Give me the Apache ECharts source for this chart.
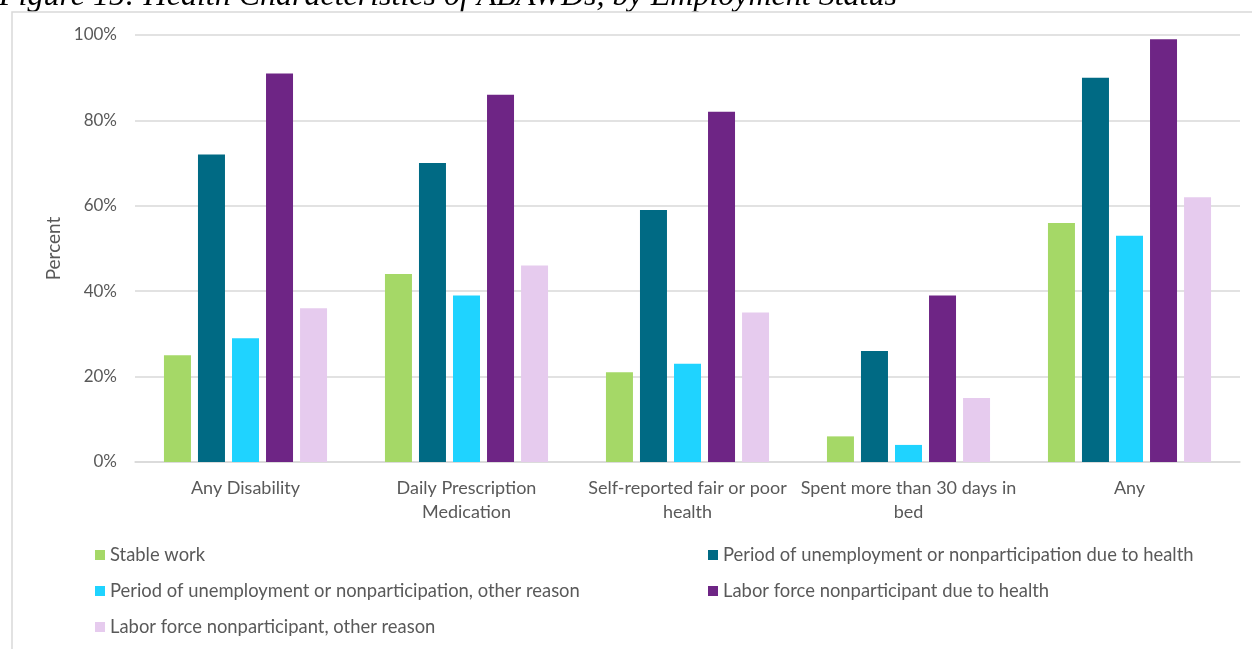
<!DOCTYPE html>
<html>
<head>
<meta charset="utf-8">
<script src="https://cdn.jsdelivr.net/npm/echarts@6/dist/echarts.min.js"></script>
<style>
  html, body { margin: 0; padding: 0; background: #fff; }
  #chart { width: 1252px; height: 649px; }
</style>
</head>
<body>
<div id="chart"></div>
<script>
// Health characteristics by employment status (percent)
const categories = [
  'Any Disability',
  'Daily Prescription\nMedication',
  'Self-reported fair or poor\nhealth',
  'Spent more than 30 days in\nbed',
  'Any'
];
const seriesNames = [
  'Stable work',
  'Period of unemployment or nonparticipation due to health',
  'Period of unemployment or nonparticipation, other reason',
  'Labor force nonparticipant due to health',
  'Labor force nonparticipant, other reason'
];
const stableWork        = [25, 44, 21, 6, 56];
const unempHealth       = [72, 70, 59, 26, 90];
const unempOther        = [29, 39, 23, 4, 53];
const nonpartHealth     = [91, 86, 82, 39, 99];
const nonpartOther      = [36, 46, 35, 15, 62];
const yTicks = [0, 20, 40, 60, 80, 100];

const colors = ['#A5D867', '#006A84', '#1FD3FF', '#6E2585', '#E6CBEE'];
const values = [stableWork, unempHealth, unempOther, nonpartHealth, nonpartOther];

const FONT = 'Lato';
const GREY = '#595959';
const LINE = '#D9D9D9';

const chart = echarts.init(document.getElementById('chart'), null, { renderer: 'canvas' });

const legendText = { color: GREY, fontFamily: FONT, fontSize: 18.4, lineHeight: 20 };

chart.setOption({
  animation: false,
  color: colors,
  graphic: [
    {
      type: 'text',
      left: -1,
      top: -19,
      style: {
        text: 'Figure 15: Health Characteristics of ABAWDs, by Employment Status',
        fill: '#000',
        font: 'italic 32px "Liberation Serif", "Times New Roman", serif'
      }
    },
    {
      type: 'rect',
      shape: { x: 12, y: 12, width: 1260, height: 660 },
      style: { fill: 'none', stroke: LINE, lineWidth: 1.5 },
      silent: true
    }
  ],
  grid: { left: 135, right: 12, top: 35, bottom: 187, containLabel: false },
  legend: [
    {
      orient: 'vertical',
      left: 90,
      top: 540,
      itemWidth: 10,
      itemHeight: 10,
      itemGap: 16,
      icon: 'rect',
      data: [seriesNames[0], seriesNames[2], seriesNames[4]],
      textStyle: legendText
    },
    {
      orient: 'vertical',
      left: 703,
      top: 540,
      itemWidth: 10,
      itemHeight: 10,
      itemGap: 16,
      icon: 'rect',
      data: [seriesNames[1], seriesNames[3]],
      textStyle: legendText
    }
  ],
  xAxis: {
    type: 'category',
    data: categories,
    axisLine: { lineStyle: { color: LINE, width: 1.5 } },
    axisTick: { show: false },
    axisLabel: {
      color: GREY,
      fontFamily: FONT,
      fontSize: 18,
      lineHeight: 24,
      margin: 14,
      interval: 0
    }
  },
  yAxis: {
    type: 'value',
    min: 0,
    max: 100,
    interval: 20,
    name: 'Percent',
    nameLocation: 'middle',
    nameGap: 70,
    nameRotate: 90,
    nameTextStyle: { color: GREY, fontFamily: FONT, fontSize: 19 },
    axisLine: { show: false },
    axisTick: { show: false },
    splitLine: { lineStyle: { color: LINE, width: 1.5 } },
    axisLabel: {
      color: GREY,
      fontFamily: FONT,
      fontSize: 17,
      margin: 18,
      formatter: v => (yTicks.includes(v) ? v + '%' : '')
    }
  },
  series: seriesNames.map((name, i) => ({
    name,
    type: 'bar',
    data: values[i],
    barWidth: 27,
    barGap: '26%',
    itemStyle: { color: colors[i] }
  }))
});
</script>
</body>
</html>
